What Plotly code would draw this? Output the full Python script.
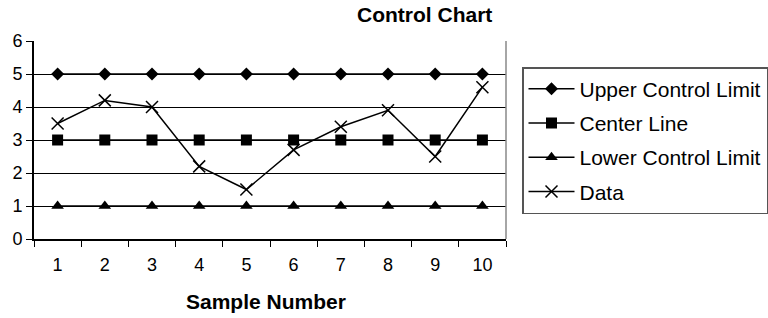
import plotly.graph_objects as go

samples = ["1", "2", "3", "4", "5", "6", "7", "8", "9", "10"]
ucl = [5, 5, 5, 5, 5, 5, 5, 5, 5, 5]
center = [3, 3, 3, 3, 3, 3, 3, 3, 3, 3]
lcl = [1, 1, 1, 1, 1, 1, 1, 1, 1, 1]
data = [3.5, 4.2, 4.0, 2.2, 1.5, 2.7, 3.4, 3.9, 2.5, 4.6]

FONT = "Liberation Sans, Arial, sans-serif"
W, H = 768, 318
L, R, T, B = 34, 262, 41, 79
PW = W - L - R

fig = go.Figure()
series = [
    ("Upper Control Limit", ucl, dict(symbol="diamond", size=10, color="black")),
    ("Center Line", center, dict(symbol="square", size=11, color="black")),
    ("Lower Control Limit", lcl, dict(symbol="triangle-up", size=11, color="black")),
    ("Data", data, dict(symbol="x-thin-open", size=12, color="black",
                        line=dict(width=1.5, color="black"))),
]
for i, (name, vals, mk) in enumerate(series):
    fig.add_trace(go.Scatter(
        x=samples, y=vals, name=name, mode="lines+markers",
        line=dict(color="black", width=1.5), marker=mk,
        legendgroup=f"g{i}",
    ))

fig.update_layout(
    width=W, height=H,
    margin=dict(l=L, r=R, t=T, b=B),
    plot_bgcolor="white", paper_bgcolor="white",
    font=dict(family=FONT, color="black", size=18),
    showlegend=True,
    legend=dict(
        xref="container", yref="container",
        x=522 / W, xanchor="left", y=1 - 140.5 / H, yanchor="middle",
        bordercolor="#555", borderwidth=1.5,
        font=dict(size=21, family=FONT),
        traceorder="grouped", tracegroupgap=4,
        itemsizing="trace", itemwidth=46,
    ),
    annotations=[
        dict(text="<b>Control Chart</b>", xref="paper", yref="paper",
             x=(424 - L) / PW, y=1, yshift=T - 14, xanchor="center", yanchor="middle",
             showarrow=False, font=dict(size=21, family=FONT)),
        dict(text="<b>Sample Number</b>", xref="paper", yref="paper",
             x=(265.5 - L) / PW, y=0, yshift=-(301 - (H - B)), xanchor="center",
             yanchor="middle", showarrow=False, font=dict(size=21, family=FONT)),
    ],
)
fig.update_xaxes(
    type="category", range=[-0.5, len(samples) - 0.5],
    tickson="boundaries", ticks="outside", ticklen=6,
    tickcolor="black", showline=True, linecolor="black", linewidth=2,
    showgrid=False, tickfont=dict(size=18), automargin=False,
    ticklabelstandoff=8,
)
fig.update_yaxes(
    range=[0, 6], dtick=1, ticks="outside", ticklen=6, tickcolor="black",
    showline=True, linecolor="black", linewidth=2,
    showgrid=True, gridcolor="black", gridwidth=1, zeroline=False,
    tickfont=dict(size=18), automargin=False,
)
fig.add_shape(type="line", xref="paper", yref="paper", x0=1, x1=1, y0=0, y1=1,
              line=dict(color="#888", width=1.5))

fig.write_html("out.html", config={"displayModeBar": False},
               post_script="document.body.style.margin='0';")
